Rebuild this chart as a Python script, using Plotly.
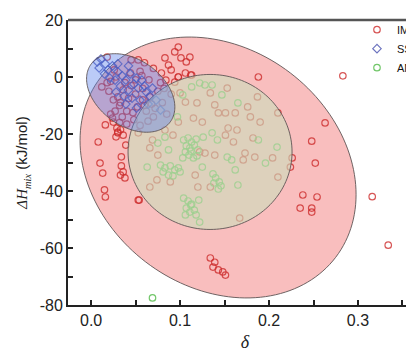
import numpy as np
import plotly.graph_objects as go

# ---------------- data ----------------
im_delta = [0.098, 0.094, 0.101, 0.107, 0.083, 0.087, 0.079, 0.090, 0.106, 0.098, 0.112, 0.084, 0.094, 0.053, 0.111, 0.018,
            0.283, 0.188, 0.263, 0.248, 0.252, 0.226, 0.224, 0.238, 0.254, 0.235, 0.248, 0.248,
            0.134, 0.139, 0.137, 0.143, 0.148, 0.151, 0.316, 0.334,
            0.008, 0.010, 0.013, 0.015, 0.016, 0.034, 0.034, 0.036, 0.033, 0.038, 0.039, 0.036, 0.030, 0.054,
            0.025, 0.029, 0.030, 0.016, 0.024, 0.027, 0.032, 0.028, 0.033, 0.022,
            0.098, 0.113, 0.134, 0.153, 0.119, 0.139, 0.143, 0.151, 0.162, 0.176, 0.187, 0.179, 0.190, 0.210,
            0.154, 0.164, 0.151, 0.160, 0.182, 0.173, 0.184, 0.204, 0.171, 0.122, 0.128, 0.139, 0.075, 0.066,
            0.069, 0.053, 0.083, 0.092, 0.098, 0.115, 0.125, 0.117, 0.120, 0.134, 0.089, 0.074, 0.066, 0.210,
            0.167, 0.053, 0.106, 0.100,
            0.020, 0.025, 0.032, 0.040, 0.045, 0.050, 0.058, 0.062, 0.070, 0.048, 0.038, 0.028, 0.055, 0.065,
            0.075, 0.080, 0.085, 0.060, 0.070, 0.045, 0.018, 0.035, 0.055, 0.090, 0.078,
            0.012, 0.022, 0.030, 0.042, 0.050, 0.058, 0.066, 0.036, 0.044, 0.052, 0.026, 0.060, 0.068, 0.040,
            0.047, 0.033, 0.057, 0.072, 0.064, 0.082]
im_hmix = [10.5, 8.8, 6.7, 5.3, 6.7, 4.2, 1.4, 2.5, 1.4, 0.0, 0.7, -1.1, -1.8, 6.0, 7.0, 7.0,
           0.4, 0.0, -16.1, -22.5, -30.2, -28.4, -31.6, -41.4, -42.1, -46.0, -46.0, -47.4,
           -63.5, -65.0, -66.7, -67.7, -68.4, -69.5, -42.0, -59.0,
           -22.8, -30.2, -33.7, -39.6, -42.1, -28.0, -31.2, -33.3, -34.4, -35.4, -23.9, -20.4, -19.3, -43.2,
           -15.8, -17.9, -19.6, -16.8, -14.4, -12.0, -16.0, -21.0, -18.5, -13.0,
           0.0, 0.7, -5.6, -3.9, -9.1, -9.8, -12.6, -12.6, -12.6, -10.5, -7.0, -14.0, -15.8, -12.6,
           -17.9, -18.6, -20.4, -22.8, -21.4, -26.7, -28.1, -28.4, -29.1, -26.3, -26.7, -27.4, -27.4, -24.9,
           -22.1, -19.6, -18.6, -20.4, -15.8, -14.4, -15.8, -34.4, -38.6, -38.6, -36.8, -36.1, -38.6, -35.1,
           -49.5, -43.2, -8.8, -5.6,
           -5.0, -8.0, -10.0, -12.0, -3.0, -6.0, -8.0, -12.0, -14.0, -15.0, -2.0, 0.0, 2.0, -1.0,
           -5.0, -9.0, -13.0, 5.0, 3.0, 6.0, -2.0, -14.0, -17.0, -6.0, -2.0,
           -3.5, -1.5, -7.0, -7.5, -1.0, -4.0, -7.0, -4.5, 1.5, -10.5, 2.5, -10.0, -9.5, -16.5,
           -12.5, -9.0, 0.5, -11.0, -15.5, -4.0]

ss_delta = [0.007, 0.011, 0.016, 0.009, 0.019, 0.024, 0.030, 0.035, 0.039, 0.044, 0.048, 0.053, 0.042, 0.033,
            0.027, 0.057, 0.062, 0.066, 0.055, 0.046, 0.037, 0.051, 0.060, 0.069, 0.021, 0.015, 0.028, 0.039,
            0.051, 0.064, 0.073, 0.078, 0.030, 0.042]
ss_hmix = [5.3, 6.3, 4.6, 3.2, 2.5, 3.9, 1.8, 0.4, -1.1, 1.1, -2.5, -3.9, -4.6, -3.2,
           -1.1, -1.1, -5.3, -6.7, -8.1, -7.4, -6.7, -0.4, -3.2, -3.9, -0.4, 1.1, -5.3, -9.5,
           -10.9, -9.5, -8.1, -11.6, 4.6, 3.9]

am_delta = [0.104, 0.109, 0.113, 0.118, 0.107, 0.111, 0.116, 0.120, 0.106, 0.110, 0.115, 0.119, 0.103, 0.112,
            0.078, 0.083, 0.089, 0.094, 0.100, 0.081, 0.087, 0.092, 0.098,
            0.137, 0.140, 0.144, 0.146, 0.138, 0.143,
            0.104, 0.109, 0.113, 0.107, 0.111, 0.116, 0.118, 0.106, 0.112,
            0.083, 0.087, 0.063, 0.136, 0.142, 0.153, 0.158, 0.162, 0.165, 0.125, 0.126, 0.097, 0.113,
            0.103, 0.122, 0.128, 0.136, 0.147, 0.165, 0.188, 0.209, 0.196, 0.075, 0.069, 0.121, 0.122]
am_hmix = [-22.1, -21.4, -22.8, -21.8, -24.2, -24.9, -23.9, -25.6, -26.3, -27.4, -28.4, -27.7, -28.4, -26.0,
           -30.9, -31.9, -31.2, -32.6, -33.3, -33.3, -34.4, -34.7, -31.9,
           -34.0, -35.4, -36.8, -38.2, -37.2, -39.3,
           -42.5, -43.5, -44.6, -46.0, -47.4, -46.7, -48.4, -48.4, -44.9,
           -21.1, -25.6, -31.6, -19.6, -22.1, -28.1, -29.1, -32.6, -37.9, -31.6, -21.1, -14.0, -3.5,
           -6.3, -2.1, -2.8, -2.8, -6.3, -9.1, -22.1, -24.6, -30.2, -23.2, -77.5, -43.2, -50.9]

series_names = ["IM", "SS", "AM"]
x_ticks = [0.0, 0.1, 0.2, 0.3]
x_tick_text = ["0.0", "0.1", "0.2", "0.3"]
y_ticks = [20, 0, -20, -40, -60, -80]
y_tick_text = ["20", "0", "-20", "-40", "-60", "-80"]

# ---------------- layout geometry ----------------
# the page adds an 8 px body margin, so the figure is offset by (8, 8)
W, H = 414, 348
ML, MR, MT, MB = 60, 0, 12, 51
PX_X = 889.5           # pixels per unit of delta
PX_Y = 2.85            # pixels per kJ/mol
X_MIN = -0.026
X_RANGE = [X_MIN, X_MIN + (W - ML - MR) / PX_X]
Y_RANGE = [-80, 20]


def ellipse_path(cx, cy, a_px, b_px, ang_deg, n=160):
    t = np.linspace(0, 2 * np.pi, n, endpoint=False)
    th = np.radians(ang_deg)
    u = a_px * np.cos(t)
    v = b_px * np.sin(t)
    dx = u * np.cos(th) - v * np.sin(th)
    dy = u * np.sin(th) + v * np.cos(th)
    xs = cx + dx / PX_X
    ys = cy - dy / PX_Y
    return "M " + " L ".join(f"{x:.5f},{y:.4f}" for x, y in zip(xs, ys)) + " Z"


fig = go.Figure()

fig.add_trace(go.Scatter(x=im_delta, y=im_hmix, mode="markers", name=series_names[0],
                         marker=dict(symbol="circle-open", size=6.5, color="rgba(205,45,45,0.8)",
                                     line=dict(width=1.2))))
fig.add_trace(go.Scatter(x=ss_delta, y=ss_hmix, mode="markers", name=series_names[1],
                         marker=dict(symbol="diamond-open", size=6.5, color="rgba(60,70,170,0.75)",
                                     line=dict(width=1.2))))
fig.add_trace(go.Scatter(x=am_delta, y=am_hmix, mode="markers", name=series_names[2],
                         marker=dict(symbol="circle-open", size=6.5, color="rgba(80,185,70,0.8)",
                                     line=dict(width=1.2))))

outline = dict(color="rgba(95,85,85,0.9)", width=1)
shapes = [
    dict(type="path", xref="x", yref="y", layer="below",
         path=ellipse_path(0.1427, -31.75, 148, 119, 37.4),
         fillcolor="#F9BEBE", line=outline),
    dict(type="path", xref="x", yref="y", layer="above",
         path=ellipse_path(0.1337, -26.3, 82, 77.5, 0),
         fillcolor="rgba(203,221,188,0.62)", line=outline),
    dict(type="path", xref="x", yref="y", layer="above",
         path=ellipse_path(0.0445, -5.6, 49, 33, 36),
         fillcolor="rgba(85,125,235,0.40)", line=outline),
    dict(type="line", xref="paper", yref="paper", x0=0, x1=1, y0=1, y1=1,
         line=dict(color="#555555", width=2.5)),
]

axis_common = dict(showline=True, linecolor="#222222", linewidth=2, ticks="inside", ticklen=5,
                   tickwidth=1.5, tickcolor="#222222", showgrid=False, zeroline=False,
                   automargin=False,
                   tickfont=dict(family="Liberation Sans", size=16, color="#222222"))

fig.update_layout(
    width=W, height=H,
    margin=dict(l=ML, r=MR, t=MT, b=MB, autoexpand=False),
    paper_bgcolor="white", plot_bgcolor="white",
    shapes=shapes,
    showlegend=True,
    legend=dict(x=0.9915, xanchor="right", y=1.017, yanchor="top", bgcolor="rgba(0,0,0,0)",
                font=dict(family="Liberation Sans", size=11, color="#111111"),
                itemwidth=30, tracegroupgap=0),
    xaxis=dict(range=X_RANGE, tickvals=x_ticks, ticktext=x_tick_text,
               minor=dict(dtick=0.05, ticks="inside", ticklen=5, tickwidth=1.5, tickcolor="#222222"),
               title=dict(text="<i>δ</i>", standoff=7,
                          font=dict(family="Liberation Serif", size=18, color="#222222")),
               **axis_common),
    yaxis=dict(range=Y_RANGE, tickvals=y_ticks, ticktext=y_tick_text,
               minor=dict(dtick=10, ticks="inside", ticklen=5, tickwidth=1.5, tickcolor="#222222"),
               title=dict(text="<span style=\"font-family:'Liberation Serif'\"><i>ΔH</i><sub><i>mix</i></sub></span> (kJ/mol)",
                          standoff=8,
                          font=dict(family="Liberation Sans", size=15, color="#222222")),
               **axis_common),
)

fig.write_html("out.html")
